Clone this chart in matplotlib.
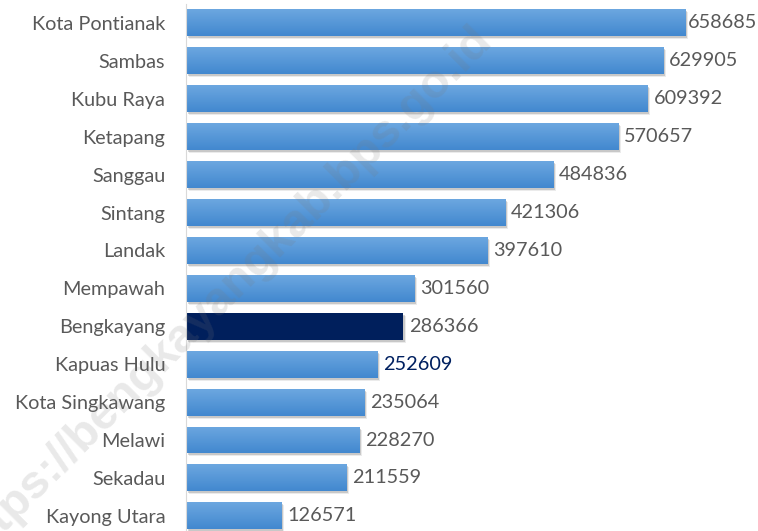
import matplotlib
matplotlib.use("Agg")
import matplotlib.pyplot as plt
import matplotlib.transforms as mtransforms
import numpy as np

regions = ["Kota Pontianak", "Sambas", "Kubu Raya", "Ketapang", "Sanggau", "Sintang",
           "Landak", "Mempawah", "Bengkayang", "Kapuas Hulu", "Kota Singkawang",
           "Melawi", "Sekadau", "Kayong Utara"]
population = [658685, 629905, 609392, 570657, 484836, 421306, 397610, 301560,
              286366, 252609, 235064, 228270, 211559, 126571]
highlight = "Bengkayang"

W, H = 758, 531
fig = plt.figure(figsize=(W / 100, H / 100), dpi=100)
fig.patch.set_facecolor("white")
ax = fig.add_axes([186 / W, 0, 572 / W, 527 / H])
ax.set_facecolor("none")

font = "Lato"
fs = 14.3
ypos = np.arange(len(regions))
bar_h = 0.71

# soft drop shadow offset to the lower right
for k, a in ((0, 0.25), (1, 0.12)):
    tf = ax.transData + mtransforms.ScaledTranslation((1.5 + k) / 100, -(2 + k) / 100, fig.dpi_scale_trans)
    ax.barh(ypos, population, height=bar_h, color="#606060", alpha=a, transform=tf,
            zorder=1, linewidth=0)

# bars with vertical gradient
grad = np.linspace(0, 1, 64).reshape(-1, 1)
top = np.array([0x6C, 0xA7, 0xE0]) / 255
bot = np.array([0x42, 0x88, 0xCF]) / 255
grad_img = top + (bot - top) * grad[..., None]
grad_img = np.repeat(grad_img, 2, axis=1)

bars = ax.barh(ypos, population, height=bar_h, color="#5597D8", linewidth=0, zorder=2)
for r, b, v in zip(regions, bars, population):
    if r == highlight:
        b.set_facecolor("#001F5C")
        continue
    y0 = b.get_y()
    im = ax.imshow(grad_img, extent=(0, v, y0 + bar_h, y0), aspect="auto",
                   zorder=2.5, interpolation="bilinear")
    im.set_clip_path(b)

ax.set_aspect("auto")
ax.set_xlim(0, 754600)
ax.set_ylim(13.4, -0.5)

# value labels, pulled back inside the figure when they would overflow
labels = []
for r, y, v in zip(regions, ypos, population):
    col = "#002060" if r == "Kapuas Hulu" else "#595959"
    t = ax.annotate(f"{v}", (v, y), xytext=(4, 0), textcoords="offset points",
                    va="center", ha="left", fontsize=fs, color=col, family=font, zorder=5)
    labels.append(t)
fig.canvas.draw()
renderer = fig.canvas.get_renderer()
for t in labels:
    bb = t.get_window_extent(renderer)
    over = bb.x1 - (W - 1)
    if over > 0:
        dx, dy = t.xyann
        t.xyann = (dx - over * 72 / fig.dpi, dy)

ax.set_yticks(ypos)
ax.set_yticklabels(regions, fontsize=fs, color="#595959", family=font)
ax.tick_params(axis="y", length=0, pad=15)
ax.set_xticks([])
for s in ("top", "right", "bottom"):
    ax.spines[s].set_visible(False)
ax.spines["left"].set_color("#D9D9D9")
ax.spines["left"].set_linewidth(0.8)
ax.spines["left"].set_zorder(3)

# diagonal site watermark
fig.text(224 / W, 1 - 294 / H, "https://bengkayangkab.bps.go.id", rotation=45,
         ha="center", va="center", fontsize=34, fontweight="bold",
         family="Liberation Sans", color="#7A7A7A", alpha=0.17, zorder=10)

fig.savefig("out.png", dpi=100, facecolor="white")
